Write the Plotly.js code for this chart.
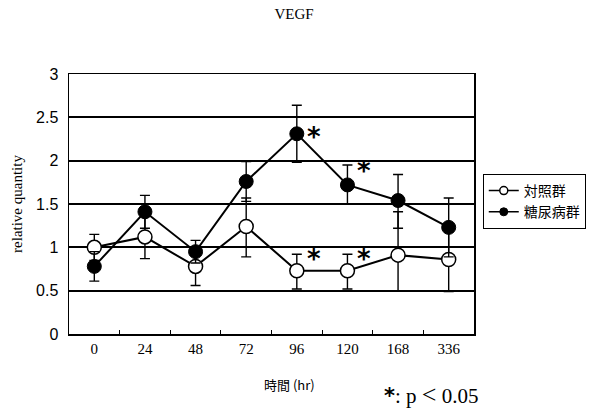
<!DOCTYPE html>
<html><head><meta charset="utf-8">
<script src="https://cdn.plot.ly/plotly-3.0.1.min.js"></script>
<style>html,body{margin:0;padding:0;background:#fff}</style>
</head><body>
<div id="chart" style="width:598px;height:412px"></div>
<script>
const hours = ['0','24','48','72','96','120','168','336'];
const controlName = '対照群';
const diabetesName = '糖尿病群';
const controlMean = [1.00, 1.12, 0.78, 1.24, 0.73, 0.73, 0.91, 0.86];
const controlErrUp = [0.15, 0.25, 0.22, 0.33, 0.19, 0.19, 0.50, 0.37];
const controlErrDown = [0.15, 0.25, 0.22, 0.35, 0.21, 0.21, 0.41, 0.37];
const diabetesMean = [0.78, 1.41, 0.95, 1.76, 2.31, 1.72, 1.54, 1.23];
const diabetesErrUp = [0.17, 0.19, 0.13, 0.23, 0.33, 0.23, 0.30, 0.34];
const diabetesErrDown = [0.17, 0.19, 0.13, 0.23, 0.33, 0.22, 0.32, 0.34];
const sigControl = [4, 5];
const sigDiabetes = [4, 5];

const errStyle = {type:'data', symmetric:false, color:'#000', thickness:1.4, width:5};
const openMarker = {symbol:'circle', color:'#fff', line:{color:'#000', width:1.5}};
const filledMarker = {symbol:'circle', color:'#000', line:{color:'#000', width:1}};
const traces = [
  {x:hours, y:controlMean, name:controlName, type:'scatter', mode:'lines+markers', showlegend:false,
   line:{color:'#000', width:2}, marker:Object.assign({size:14}, openMarker),
   error_y:Object.assign({array:controlErrUp, arrayminus:controlErrDown}, errStyle)},
  {x:hours, y:diabetesMean, name:diabetesName, type:'scatter', mode:'lines+markers', showlegend:false,
   line:{color:'#000', width:2}, marker:Object.assign({size:14}, filledMarker),
   error_y:Object.assign({array:diabetesErrUp, arrayminus:diabetesErrDown}, errStyle)},
  {x:[null], y:[null], name:controlName, type:'scatter', mode:'lines+markers',
   line:{color:'#000', width:1.5}, marker:Object.assign({size:8}, openMarker)},
  {x:[null], y:[null], name:diabetesName, type:'scatter', mode:'lines+markers',
   line:{color:'#000', width:1.5}, marker:Object.assign({size:8}, filledMarker)}
];

const starFont = {family:'DejaVu Sans', size:26, color:'#000', weight:'bold'};
const annotations = [];
sigDiabetes.forEach(i => annotations.push({x:i, y:diabetesMean[i], xref:'x', yref:'y', text:'*',
  showarrow:false, xshift:17, yshift:i===4?-3:14, font:starFont}));
sigControl.forEach(i => annotations.push({x:i, y:controlMean[i], xref:'x', yref:'y', text:'*',
  showarrow:false, xshift:17, yshift:12, font:starFont}));
annotations.push({xref:'paper', yref:'paper', x:(296-69)/416, y:-(384-334)/260, text:'時間 (hr)',
  showarrow:false, xanchor:'center', yanchor:'middle', font:{family:'Noto Sans CJK JP', size:13, color:'#000'}});
annotations.push({xref:'paper', yref:'paper', x:(391-69)/416, y:-(394-334)/260,
  text:'<span style="font-family:DejaVu Sans;font-weight:bold">*</span>: p <span style="font-size:26px">&lt;</span> 0.05',
  showarrow:false, xanchor:'left', yanchor:'middle', font:{family:'Liberation Serif', size:21, color:'#000'}});

const layout = {
  width:598, height:412,
  margin:{l:69, r:113, t:74, b:78},
  paper_bgcolor:'#fff', plot_bgcolor:'#fff',
  title:{text:'VEGF', xref:'container', x:294/598, xanchor:'center', y:1-14/412, yanchor:'middle',
    font:{family:'Liberation Serif', size:15, color:'#000'}},
  showlegend:true,
  legend:{x:(494-69)/416, y:(334-174)/260, xanchor:'left', yanchor:'top',
    bordercolor:'#000', borderwidth:1, bgcolor:'#fff',
    font:{family:'Noto Sans CJK JP', size:14, color:'#000'}, tracegroupgap:0},
  xaxis:{type:'category', range:[-0.5, 7.5], showline:true, mirror:true, linecolor:'#000', linewidth:1.5,
    showgrid:false, ticks:'inside', tickson:'boundaries', ticklen:4, tickcolor:'#000',
    tickfont:{family:'Liberation Serif', size:15, color:'#000'}, zeroline:false},
  yaxis:{range:[0, 3], dtick:0.5, showline:true, mirror:true, linecolor:'#000', linewidth:1.5,
    showgrid:true, gridcolor:'#000', gridwidth:2, zeroline:false, ticks:'', ticklabelstandoff:6,
    tickfont:{family:'Liberation Sans', size:16, color:'#000'},
    title:{text:'relative quantity', standoff:10, font:{family:'Liberation Serif', size:15, color:'#000'}}},
  annotations:annotations
};
Plotly.newPlot('chart', traces, layout, {displayModeBar:false, staticPlot:true});
</script>
</body></html>
